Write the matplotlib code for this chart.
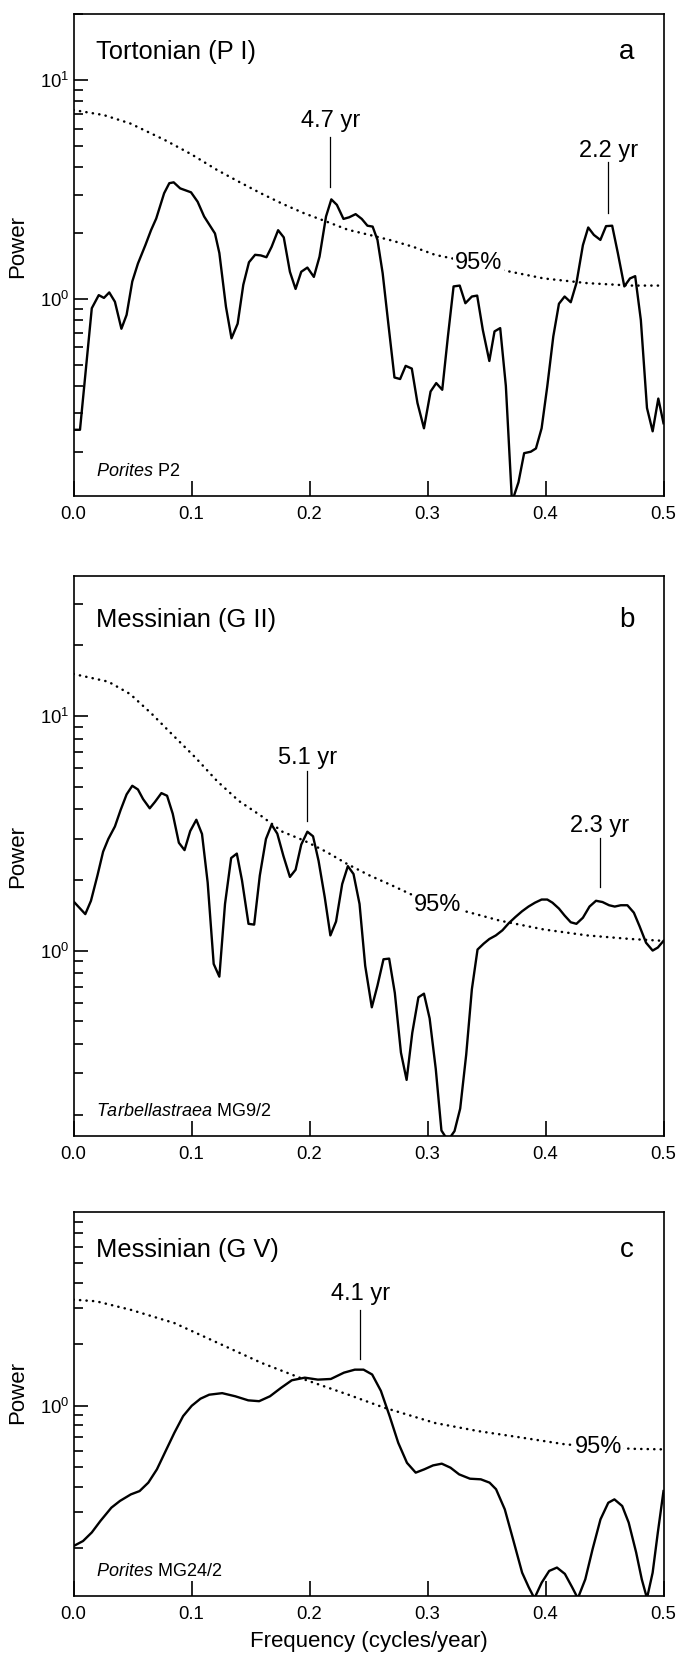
import numpy as np
import matplotlib
matplotlib.use('Agg')
import matplotlib.pyplot as plt
from matplotlib.ticker import LogLocator, NullFormatter, FixedLocator

plt.rcParams['font.family'] = ['Liberation Sans', 'DejaVu Sans']
plt.rcParams['mathtext.fontset'] = 'custom'
plt.rcParams['mathtext.rm'] = 'Liberation Sans'
plt.rcParams['mathtext.it'] = 'Liberation Sans:italic'

# ---------------- data ----------------
xticks = [0.0, 0.1, 0.2, 0.3, 0.4, 0.5]
xticklabels = ['0.0', '0.1', '0.2', '0.3', '0.4', '0.5']

# Panel a: Tortonian (P I), Porites P2
freq_a = [0.000, 0.0055, 0.0155, 0.0214, 0.0258, 0.0303, 0.0351, 0.0406, 0.0450, 0.0498,
          0.0546, 0.0609, 0.0657, 0.0701, 0.0768, 0.0812, 0.0849, 0.0904, 0.0996, 0.1052,
          0.1107, 0.1199, 0.1236, 0.1292, 0.1339, 0.1391, 0.1439, 0.1487, 0.1539, 0.1587,
          0.1635, 0.1679, 0.1734, 0.1782, 0.1834, 0.1882, 0.1930, 0.1982, 0.2037, 0.2085,
          0.2140, 0.2185, 0.2232, 0.2288, 0.2336, 0.2391, 0.2443, 0.2491, 0.2535, 0.2576,
          0.2620, 0.2668, 0.2720, 0.2768, 0.2815, 0.2867, 0.2915, 0.2970, 0.3026, 0.3074,
          0.3125, 0.3173, 0.3221, 0.3273, 0.3321, 0.3376, 0.3421, 0.3469, 0.3524, 0.3568,
          0.3616, 0.3664, 0.3716, 0.3771, 0.3819, 0.3875, 0.3919, 0.3967, 0.4015, 0.4066,
          0.4114, 0.4162, 0.4214, 0.4262, 0.4317, 0.4362, 0.4410, 0.4465, 0.4513, 0.4565,
          0.4613, 0.4668, 0.4716, 0.4760, 0.4808, 0.4860, 0.4908, 0.4956, 0.5000]
power_a = [0.252, 0.252, 0.906, 1.04, 1.01, 1.07, 0.97, 0.73, 0.845, 1.2,
           1.45, 1.76, 2.06, 2.33, 3.04, 3.38, 3.41, 3.2, 3.07, 2.78,
           2.38, 1.99, 1.62, 0.92, 0.66, 0.77, 1.16, 1.47, 1.59, 1.58,
           1.55, 1.73, 2.06, 1.91, 1.33, 1.11, 1.33, 1.39, 1.26, 1.56,
           2.38, 2.85, 2.69, 2.32, 2.36, 2.44, 2.32, 2.16, 2.14, 1.86,
           1.31, 0.77, 0.437, 0.43, 0.494, 0.48, 0.334, 0.256, 0.377, 0.412,
           0.384, 0.673, 1.14, 1.15, 0.955, 1.025, 1.035, 0.72, 0.52, 0.71,
           0.735, 0.40, 0.118, 0.145, 0.197, 0.2, 0.207, 0.256, 0.398, 0.673,
           0.95, 1.025, 0.965, 1.18, 1.76, 2.12, 1.96, 1.86, 2.15, 2.16,
           1.62, 1.14, 1.24, 1.27, 0.80, 0.317, 0.248, 0.35, 0.27]
conf_freq_a = [0.0, 0.0258, 0.048, 0.0775, 0.0996, 0.1218, 0.1402, 0.1587, 0.1771, 0.1956,
               0.214, 0.2325, 0.2509, 0.2694, 0.2878, 0.3063, 0.334, 0.3616, 0.3985, 0.4354,
               0.4723, 0.5]
conf_a = [7.3, 6.92, 6.34, 5.32, 4.59, 3.88, 3.43, 3.04, 2.72, 2.46,
          2.26, 2.07, 1.96, 1.85, 1.73, 1.59, 1.48, 1.36, 1.24, 1.18,
          1.15, 1.15]

# Panel b: Messinian (G II), Tarbellastraea MG9/2
freq_b = [0.0, 0.0100, 0.0148, 0.0203, 0.0251, 0.0295, 0.0351, 0.0399, 0.0450, 0.0498,
          0.0546, 0.0590, 0.0646, 0.0690, 0.0745, 0.0793, 0.0841, 0.0893, 0.0941, 0.0989,
          0.1041, 0.1089, 0.1137, 0.1188, 0.1236, 0.1284, 0.1336, 0.1384, 0.1428, 0.1483,
          0.1531, 0.1579, 0.1631, 0.1679, 0.1727, 0.1779, 0.1834, 0.1882, 0.1930, 0.1982,
          0.2030, 0.2077, 0.2129, 0.2177, 0.2225, 0.2277, 0.2325, 0.2373, 0.2424, 0.2472,
          0.2528, 0.2576, 0.2627, 0.2675, 0.2723, 0.2775, 0.2823, 0.2871, 0.2923, 0.2970,
          0.3018, 0.3070, 0.3118, 0.3173, 0.3229, 0.3277, 0.3328, 0.3376, 0.3424, 0.3476,
          0.3524, 0.3579, 0.3635, 0.3690, 0.3745, 0.3801, 0.3856, 0.3911, 0.3967, 0.4015,
          0.4059, 0.4114, 0.4162, 0.4214, 0.4262, 0.4317, 0.4373, 0.4428, 0.4483, 0.4539,
          0.4587, 0.4638, 0.4694, 0.4749, 0.4797, 0.4852, 0.4908, 0.4952, 0.5000]
power_b = [1.62, 1.43, 1.63, 2.09, 2.64, 2.99, 3.38, 3.97, 4.63, 5.04,
           4.86, 4.42, 4.04, 4.30, 4.69, 4.57, 3.83, 2.88, 2.68, 3.23,
           3.61, 3.14, 1.95, 0.877, 0.774, 1.58, 2.48, 2.59, 1.99, 1.30,
           1.29, 2.09, 2.99, 3.44, 3.15, 2.53, 2.06, 2.21, 2.83, 3.21,
           3.07, 2.41, 1.69, 1.16, 1.33, 1.92, 2.29, 2.12, 1.58, 0.861,
           0.573, 0.709, 0.918, 0.924, 0.66, 0.367, 0.281, 0.446, 0.632, 0.655,
           0.514, 0.313, 0.171, 0.155, 0.170, 0.212, 0.36, 0.684, 1.01, 1.07,
           1.12, 1.16, 1.22, 1.31, 1.39, 1.47, 1.54, 1.60, 1.65, 1.65,
           1.60, 1.51, 1.41, 1.32, 1.30, 1.38, 1.54, 1.63, 1.61, 1.56,
           1.54, 1.56, 1.56, 1.45, 1.27, 1.08, 1.0, 1.03, 1.10]
conf_freq_b = [0.0, 0.0295, 0.0480, 0.0664, 0.0849, 0.1033, 0.1218, 0.1402, 0.1587, 0.1771,
               0.1956, 0.2140, 0.2325, 0.2509, 0.2694, 0.2878, 0.3321, 0.3616, 0.3985, 0.4354,
               0.4723, 0.5]
conf_b = [15.1, 14.0, 12.4, 10.2, 8.22, 6.65, 5.27, 4.34, 3.76, 3.21,
          2.94, 2.64, 2.33, 2.09, 1.90, 1.72, 1.47, 1.34, 1.23, 1.16,
          1.12, 1.10]

# Panel c: Messinian (G V), Porites MG24/2
freq_c = [0.0, 0.0081, 0.0155, 0.0228, 0.0321, 0.0394, 0.0486, 0.0560, 0.0634, 0.0707,
          0.0781, 0.0855, 0.0929, 0.1002, 0.1076, 0.1150, 0.1260, 0.1371, 0.1481, 0.1573,
          0.1665, 0.1758, 0.1850, 0.1960, 0.2071, 0.2181, 0.2292, 0.2384, 0.2458, 0.2531,
          0.2605, 0.2679, 0.2752, 0.2826, 0.2900, 0.2973, 0.3047, 0.3121, 0.3195, 0.3268,
          0.3360, 0.3452, 0.3526, 0.3581, 0.3655, 0.3729, 0.3802, 0.3858, 0.3906, 0.3968,
          0.4031, 0.4097, 0.4164, 0.4226, 0.4274, 0.4337, 0.4399, 0.4466, 0.4532, 0.4584,
          0.4650, 0.4705, 0.4768, 0.4816, 0.4860, 0.4908, 0.4952, 0.5000]
power_c = [0.204, 0.216, 0.238, 0.271, 0.315, 0.34, 0.366, 0.38, 0.418, 0.486,
           0.598, 0.735, 0.887, 0.997, 1.08, 1.13, 1.15, 1.11, 1.06, 1.05,
           1.11, 1.22, 1.33, 1.37, 1.34, 1.35, 1.45, 1.50, 1.50, 1.42,
           1.18, 0.887, 0.656, 0.523, 0.468, 0.486, 0.508, 0.518, 0.495, 0.459,
           0.437, 0.434, 0.418, 0.388, 0.309, 0.216, 0.151, 0.128, 0.113, 0.135,
           0.154, 0.16, 0.149, 0.128, 0.113, 0.14, 0.197, 0.276, 0.333, 0.346,
           0.321, 0.266, 0.19, 0.14, 0.113, 0.151, 0.238, 0.38]
conf_freq_c = [0.0, 0.0192, 0.0486, 0.0855, 0.1223, 0.1592, 0.1960, 0.2329, 0.2623, 0.3066,
               0.3434, 0.3802, 0.4171, 0.4724, 0.5]
conf_c = [3.31, 3.25, 2.95, 2.54, 2.03, 1.62, 1.34, 1.13, 0.98, 0.82,
          0.748, 0.695, 0.644, 0.613, 0.609]

panels = [
    dict(title='Tortonian (P I)', letter='a', species=r'$\mathit{Porites}$ P2',
         freq=freq_a, power=power_a, cfreq=conf_freq_a, conf=conf_a,
         ylim=(0.1255, 20.0), box=(14.3, 496.0), title_dy=38, ylab_y=246,
         peaks=[(0.2177, '4.7 yr', 3.26, 5.51, 6.08), (0.4531, '2.2 yr', 2.46, 4.21, 4.47)],
         conf_label=(0.3432, 1.466)),
    dict(title='Messinian (G II)', letter='b', species=r'$\mathit{Tarbellastraea}$ MG9/2',
         freq=freq_b, power=power_b, cfreq=conf_freq_b, conf=conf_b,
         ylim=(0.162, 39.5), box=(576.0, 1136.0), title_dy=44, ylab_y=856,
         peaks=[(0.198, '5.1 yr', 3.57, 5.82, 6.23), (0.4458, '2.3 yr', 1.86, 3.02, 3.21)],
         conf_label=(0.3089, 1.565)),
    dict(title='Messinian (G V)', letter='c', species=r'$\mathit{Porites}$ MG24/2',
         freq=freq_c, power=power_c, cfreq=conf_freq_c, conf=conf_c,
         ylim=(0.116, 8.95), box=(1211.7, 1596.0), title_dy=38, ylab_y=1392,
         peaks=[(0.243, '4.1 yr', 1.69, 2.95, 3.31)],
         conf_label=(0.4447, 0.622)),
]

# ---------------- figure ----------------
W, H = 682, 1661
fig = plt.figure(figsize=(W / 100, H / 100), dpi=100)
PX = 0.72  # points per pixel at 100 dpi
left_px, width_px = 73.5, 590.0

for p in panels:
    top, bot = p['box']
    ax = fig.add_axes([left_px / W, 1 - bot / H, width_px / W, (bot - top) / H])
    ax.set_yscale('log')
    ax.set_xlim(0, 0.5)
    ax.set_ylim(*p['ylim'])

    ax.plot(p['cfreq'], p['conf'], color='black', lw=1.8,
            linestyle=(0, (0.1, 2.5)), dash_capstyle='round', zorder=2)
    ax.plot(p['freq'], p['power'], color='black', lw=1.7, zorder=4,
            solid_joinstyle='round')

    for f, lab, y0, y1, yt in p['peaks']:
        ax.plot([f, f], [y0, y1], color='black', lw=0.9, zorder=4)
        ax.text(f, yt, lab, ha='center', va='baseline', fontsize=17, zorder=5)

    cx, cy = p['conf_label']
    ax.text(cx, cy, '95%', ha='center', va='center', fontsize=17, zorder=3,
            bbox=dict(facecolor='white', edgecolor='none', pad=1.0))

    ax.annotate(p['title'], xy=(0, 1), xycoords='axes fraction',
                xytext=(23 * PX, -p['title_dy'] * PX), textcoords='offset points',
                ha='left', va='center', fontsize=18.4)
    ax.annotate(p['letter'], xy=(1, 1), xycoords='axes fraction',
                xytext=(-37 * PX, -p['title_dy'] * PX), textcoords='offset points',
                ha='center', va='center', fontsize=20)
    ax.annotate(p['species'], xy=(0, 0), xycoords='axes fraction',
                xytext=(22 * PX, 24 * PX), textcoords='offset points',
                ha='left', va='center', fontsize=13)

    ax.xaxis.set_major_locator(FixedLocator(xticks))
    ax.set_xticklabels(xticklabels)
    ax.yaxis.set_major_locator(LogLocator(base=10))
    ax.yaxis.set_minor_locator(LogLocator(base=10, subs=np.arange(2, 10)))
    ax.yaxis.set_minor_formatter(NullFormatter())
    ax.tick_params(which='both', direction='in', top=False, right=False)
    ax.tick_params(axis='y', which='major', length=10, width=1.2, pad=3, labelsize=13.3)
    ax.tick_params(axis='y', which='minor', length=6.5, width=1.2)
    ax.tick_params(axis='x', which='major', length=10.5, width=1.2, pad=7.5, labelsize=13.3)
    ax.tick_params(axis='x', which='minor', bottom=False)
    for s in ax.spines.values():
        s.set_linewidth(1.2)

    fig.text(17.5 / W, 1 - p['ylab_y'] / H, 'Power', rotation=90,
             ha='center', va='center', fontsize=16)

fig.text((left_px + width_px / 2) / W, 1 - 1642 / H, 'Frequency (cycles/year)',
         ha='center', va='center', fontsize=16)

fig.savefig('out.png', dpi=100)
